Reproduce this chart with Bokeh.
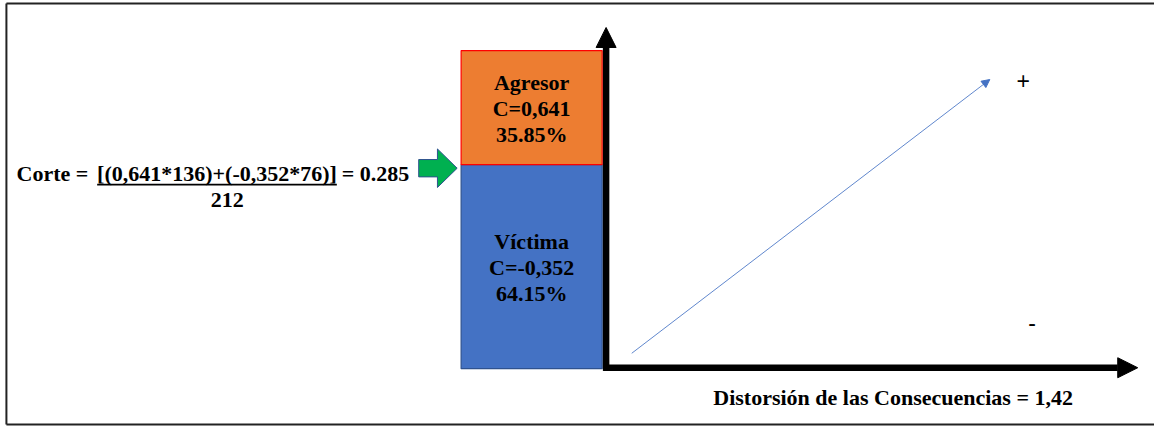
from bokeh.plotting import figure
from bokeh.models import Range1d, Arrow, NormalHead, ColumnDataSource
from bokeh.core.properties import value
from bokeh.embed import file_html
from bokeh.resources import INLINE

# ---------------- data ----------------
categories = ["Víctima", "Agresor"]
coefficients = ["-0,352", "0,641"]
percentages = [64.15, 35.85]
formula_left = "Corte ="
formula_num = "[(0,641*136)+(-0,352*76)]"
formula_right = "= 0.285"
formula_den = "212"
x_label = "Distorsión de las Consecuencias = 1,42"
sign_labels = ["+", "-"]

# ---------------- styling ----------------
fill_colors = ["#4472C4", "#ED7D31"]
edge_colors = ["#2F528F", "#FF0000"]
SERIF = value("Liberation Serif")
REF_W, REF_H = 1170, 443

W, H = 1154, 427
p = figure(width=W, height=H, output_backend="svg", toolbar_location=None,
           x_range=Range1d(0, REF_W), y_range=Range1d(REF_H, 0),
           min_border=0, outline_line_color=None)
p.axis.visible = False
p.grid.visible = False
p.background_fill_color = "white"

# percent scale for the stacked bar: 0 % at y=382, 100 % at y=52
px0, px100 = 382.0, 52.0
span = px0 - px100
p.extra_y_ranges = {"pct": Range1d(start=-(REF_H - px0) / span * 100,
                                   end=px0 / span * 100)}

# outer frame (left, top, bottom)
p.multi_line(xs=[[6, 6], [6, REF_W], [6, REF_W]],
             ys=[[3, 440], [3, 3], [440, 440]],
             line_color="#222222", line_width=2)

# stacked bar
bottoms, tops, centers = [], [], []
acc = 0.0
for v in percentages:
    bottoms.append(acc)
    tops.append(acc + v)
    centers.append(acc + v / 2)
    acc += v
src = ColumnDataSource(dict(cat=categories, bottom=bottoms, top=tops, center=centers,
                            fill=fill_colors, edge=edge_colors,
                            l1=categories,
                            l2=["C=" + c for c in coefficients],
                            l3=[f"{v:.2f}%" for v in percentages]))
bar_x = 538.5
p.vbar(x=bar_x, width=143, bottom="bottom", top="top", source=src,
       fill_color="fill", line_color="edge", line_width=1.2, y_range_name="pct")
for col, off in (("l1", -25), ("l2", 1), ("l3", 27)):
    p.text(x=bar_x, y="center", text=col, source=src, y_range_name="pct",
           y_offset=off, text_align="center", text_baseline="middle",
           text_font=SERIF, text_font_style="bold", text_font_size="22px",
           text_color="black")

# thick axes with arrows
p.add_layout(Arrow(x_start=614, y_start=384, x_end=614, y_end=28,
                   line_color="black", line_width=6.5,
                   end=NormalHead(size=20, fill_color="black", line_color="black", line_width=1)))
p.add_layout(Arrow(x_start=611, y_start=381, x_end=1153, y_end=381,
                   line_color="black", line_width=6.5,
                   end=NormalHead(size=20, fill_color="black", line_color="black", line_width=1)))

# thin diagonal arrow
p.add_layout(Arrow(x_start=640, y_start=366, x_end=1003, y_end=82,
                   line_color="#4472C4", line_width=1, line_alpha=0.85,
                   end=NormalHead(size=8, fill_color="#4472C4", line_color="#4472C4", line_width=1)))

# signs
p.text(x=[1037, 1046], y=[83, 334], text=sign_labels, text_align="center",
       text_baseline="middle", text_font=value("Liberation Sans"),
       text_font_size="23px", text_color="black")

# green block arrow
p.patch(x=[424, 443, 443, 463, 443, 443, 424], y=[165, 165, 154, 174, 194, 183, 183],
        fill_color="#00B050", line_color="#2F528F", line_width=1)

# formula
fkw = dict(text_baseline="middle", text_font=SERIF, text_font_style="bold",
           text_font_size="22px", text_color="black")
p.text(x=[89], y=[180], text=[formula_left], text_align="right", **fkw)
p.text(x=[219.5], y=[180], text=[formula_num], text_align="center", **fkw)
p.text(x=[346], y=[180], text=[formula_right], text_align="left", **fkw)
p.segment(x0=[98], y0=[191], x1=[341], y1=[191], line_color="black", line_width=1.6)
p.text(x=[230], y=[207], text=[formula_den], text_align="center", **fkw)

# x label
p.text(x=[905], y=[412], text=[x_label], text_align="center", text_baseline="middle",
       text_font=SERIF, text_font_style="bold", text_font_size="22px", text_color="black")

open("out.html", "w").write(file_html(p, INLINE))
